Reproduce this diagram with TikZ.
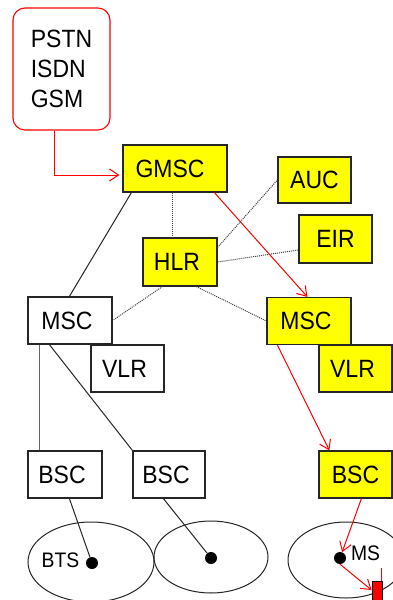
\documentclass[tikz,border=0pt]{standalone}
\usepackage{fontspec}
\setmainfont{Liberation Sans}
\newfontfamily\narrowsans[FakeStretch=0.92]{Liberation Sans}
\usetikzlibrary{arrows.meta,calc}
\definecolor{boxyellow}{RGB}{255,255,0}
\newcommand{\lft}[1]{#1\hspace*{6pt}}
\begin{document}
\begin{tikzpicture}[x=1pt,y=-1pt,
  box/.style={draw=black!85,line width=1.2pt,inner sep=0pt,font=\narrowsans\fontsize{25}{28}\selectfont},
  ybox/.style={box,fill=boxyellow},
  wbox/.style={box,fill=white},
  conn/.style={black!85,line width=1pt},
  dotline/.style={black!75,line width=1pt,dash pattern=on 1pt off 1pt},
  redarrow/.style={red,line width=1pt,-{Straight Barb[length=9pt,width=12pt]}},
  dot/.style={circle,fill=black,inner sep=0pt,minimum size=12pt},
  small/.style={font=\narrowsans\fontsize{21}{24}\selectfont,inner sep=0pt}]
\useasboundingbox (0,0) rectangle (393,600);
\fill[white] (0,0) rectangle (393,600);

% ellipses (cells)
\draw[black!85,line width=1pt] (91,562) ellipse [x radius=63,y radius=40];
\draw[black!85,line width=1pt] (211,557) ellipse [x radius=57,y radius=36];
\draw[black!85,line width=1pt] (346,560) ellipse [x radius=58,y radius=38];

% nodes
\node[draw=red,line width=1.1pt,rounded corners=12pt,minimum width=97pt,minimum height=122pt,
      align=left,font=\narrowsans\fontsize{25}{30}\selectfont,inner sep=0pt] (pstn) at (61.5,69) {PSTN\\ISDN\\GSM};
\node[ybox,minimum width=104pt,minimum height=47pt] (gmsc) at (175,168.5) {GMSC\hspace*{10pt}};
\node[ybox,minimum width=73pt,minimum height=46pt] (auc) at (314.5,180) {AUC};
\node[ybox,minimum width=73pt,minimum height=48pt] (eir) at (335.5,239) {EIR};
\node[ybox,minimum width=74pt,minimum height=48pt] (hlr) at (180,262) {\lft{HLR}};
\node[ybox,minimum width=84pt,minimum height=47pt] (msc2) at (309,321) {\lft{MSC}};
\node[ybox,minimum width=73pt,minimum height=47pt] (vlr2) at (355.5,368.5) {\lft{VLR}};
\node[wbox,minimum width=84pt,minimum height=47pt] (msc1) at (70,320.5) {\lft{MSC}};
\node[wbox,minimum width=73pt,minimum height=47pt] (vlr1) at (127.5,368.5) {\lft{VLR}};
\node[wbox,minimum width=74pt,minimum height=47pt] (bsc1) at (65,474.5) {\lft{BSC}};
\node[wbox,minimum width=72pt,minimum height=47pt] (bsc2) at (169,474.5) {\lft{BSC}};
\node[ybox,minimum width=73pt,minimum height=47pt] (bsc3) at (355.5,474.5) {BSC};

\node[dot] (d1) at (92,563) {};
\node[dot] (d2) at (211,558) {};
\node[dot] (d3) at (340,558) {};
\node[small] (bts) at (60.5,560) {BTS};
\node[small] (ms) at (365.5,553) {MS};
\node[draw=black,fill=red,line width=0.9pt,minimum width=10pt,minimum height=30pt,inner sep=0pt] (phone) at (377,596) {};

% black solid connectors
\draw[conn] ([xshift=9pt]gmsc.south west) -- ([xshift=42pt]msc1.north west);
\draw[conn,black!60] ([xshift=12pt]msc1.south west) -- ([xshift=12pt]bsc1.north west);
\draw[conn] ([xshift=22pt]msc1.south west) -- (bsc2.north west);
\draw[conn] ([xshift=42pt]bsc1.south west) -- (d1);
\draw[conn] ([xshift=31pt]bsc2.south west) -- (d2);

% dotted connectors
\draw[dotline] ([xshift=50pt]gmsc.south west) -- ([xshift=30pt]hlr.north west);
\draw[dotline] ([yshift=-10pt]hlr.north east) -- (auc.west);
\draw[dotline] (hlr.east) -- ([yshift=-11pt]eir.west);
\draw[dotline] ([xshift=20pt]hlr.south west) -- (msc1.east);
\draw[dotline] ([xshift=54pt]hlr.south west) -- (msc2.west);

% red connectors
\draw[redarrow,shorten >=3pt] ([xshift=42pt]pstn.south west) |- ([yshift=-6.5pt]gmsc.west);
\draw[redarrow] ([xshift=92pt]gmsc.south west) -- ([xshift=41pt]msc2.north west);
\draw[redarrow] ([xshift=11pt]msc2.south west) -- ([xshift=11pt]bsc3.north west);
\draw[redarrow] ([xshift=43pt]bsc3.south west) -- (d3);
\draw[redarrow] (d3.south) -- ([yshift=6pt]phone.west);
\draw[red,line width=0.9pt] ([xshift=-1pt]phone.north east) -- ++(0,-13);
\end{tikzpicture}
\end{document}
